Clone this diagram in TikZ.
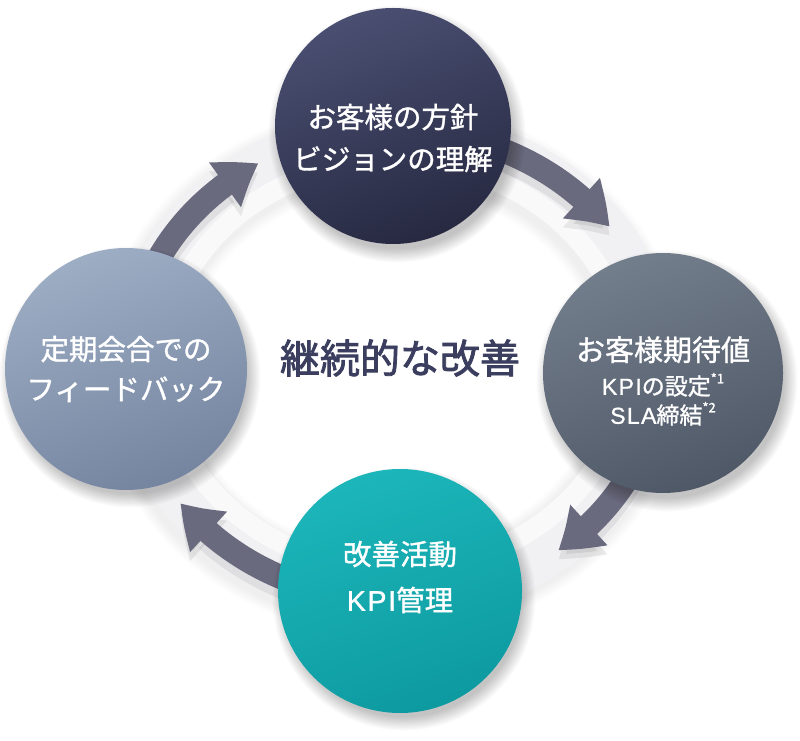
\documentclass[tikz,border=0pt]{standalone}
\usepackage{fontspec}
\newfontfamily\jp[FakeBold=1.2]{Noto Sans CJK JP}
\newfontfamily\jpb[FakeBold=2.0]{Noto Sans CJK JP}
\newfontfamily\lat[LetterSpace=6,FakeBold=1.0]{Liberation Sans}
\usetikzlibrary{arrows.meta,bending,shadings}
\definecolor{topA}{HTML}{4A4F72}
\definecolor{topB}{HTML}{272941}
\definecolor{rgtA}{HTML}{737E8C}
\definecolor{rgtB}{HTML}{4F5866}
\definecolor{botA}{HTML}{1CB6BA}
\definecolor{botB}{HTML}{0D9AA0}
\definecolor{lftA}{HTML}{9DADC4}
\definecolor{lftB}{HTML}{7585A0}
\definecolor{arrowc}{HTML}{6A6A7F}
\definecolor{titlec}{HTML}{3B3E5E}
\definecolor{ringc}{HTML}{F1F1F4}
\newcommand\softshade[3]{%
  \foreach \i in {1,...,12}{\fill[black,opacity=0.018] (#1,#2) circle ({#3-4+\i*1.2});}}
\newcommand\supmark[1]{\raisebox{0.5em}{\fontsize{13}{13}\selectfont *#1}}
\tikzset{
  ball/.style={circle, inner sep=0pt},
  balltext/.style={align=center, text=white, inner sep=0pt},
  cyclearrow/.style={arrowc, line width=24pt, -{Triangle[width=52pt,length=40pt,bend]}},
}
\begin{document}
\begin{tikzpicture}[x=1pt,y=1pt]
\useasboundingbox (0,0) rectangle (800,740);
\fill[white] (0,0) rectangle (800,740);
\coordinate (ctr) at (395,375);
% ring band
\foreach \i in {1,...,8}{\draw[black,opacity=0.009,line width={62+\i*3}] (392,370) ellipse [x radius=252, y radius=224];}
\draw[ringc,line width=62] (395,375) ellipse [x radius=252, y radius=224];
\draw[white,opacity=0.6,line width=20] (395,375) ellipse [x radius=232, y radius=204];
% arrows
\foreach \a/\b in {160/121, 70/36, -20/-52, 250/216}{
  \draw[black,opacity=0.07,line width=24pt,-{Triangle[width=52pt,length=40pt,bend]}] ([shift={(\a:265 and 235)}]395,366) arc[start angle=\a, end angle=\b, x radius=265, y radius=235];
  \draw[cyclearrow] ([shift={(\a:265 and 235)}]ctr) arc[start angle=\a, end angle=\b, x radius=265, y radius=235];
}
% shadows
\softshade{397}{606}{118}
\softshade{667}{359}{120}
\softshade{404}{141}{121}
\softshade{130}{363}{120}
% circles
\node[ball, minimum size=236pt, top color=topA, bottom color=topB, shading angle=20] (vision) at (393,614) {};
\node[ball, minimum size=240pt, top color=rgtA, bottom color=rgtB, shading angle=20] (expect) at (663,367) {};
\node[ball, minimum size=244pt, top color=botA, bottom color=botB, shading angle=20] (improve) at (400,149) {};
\node[ball, minimum size=242pt, top color=lftA, bottom color=lftB, shading angle=20] (feedback) at (126,371) {};
% circle texts
\node[balltext, font=\jp\fontsize{28.5}{42}\selectfont] (vision-t) at ([yshift=-12]vision.center)
  {お客様の方針\\ビジョンの理解};
\node[balltext, font=\jp\fontsize{23}{28}\selectfont] (expect-t) at ([yshift=-8]expect.center)
  {{\fontsize{29}{34}\selectfont お客様期待値}\\[6pt]{\lat KPI}の設定\supmark{1}\\[1pt]{\lat SLA}締結\supmark{2}};
\node[balltext, font=\jp\fontsize{28.5}{46}\selectfont] (improve-t) at ([yshift=14]improve.center)
  {改善活動\\{\lat KPI}管理};
\node[balltext, font=\jp\fontsize{28.5}{40}\selectfont] (feedback-t) at (feedback.center)
  {定期会合での\\フィードバック};
% center title
\node[text=titlec, font=\jpb\fontsize{40}{42}\selectfont] (title) at (400,382) {継続的な改善};
\end{tikzpicture}
\end{document}
